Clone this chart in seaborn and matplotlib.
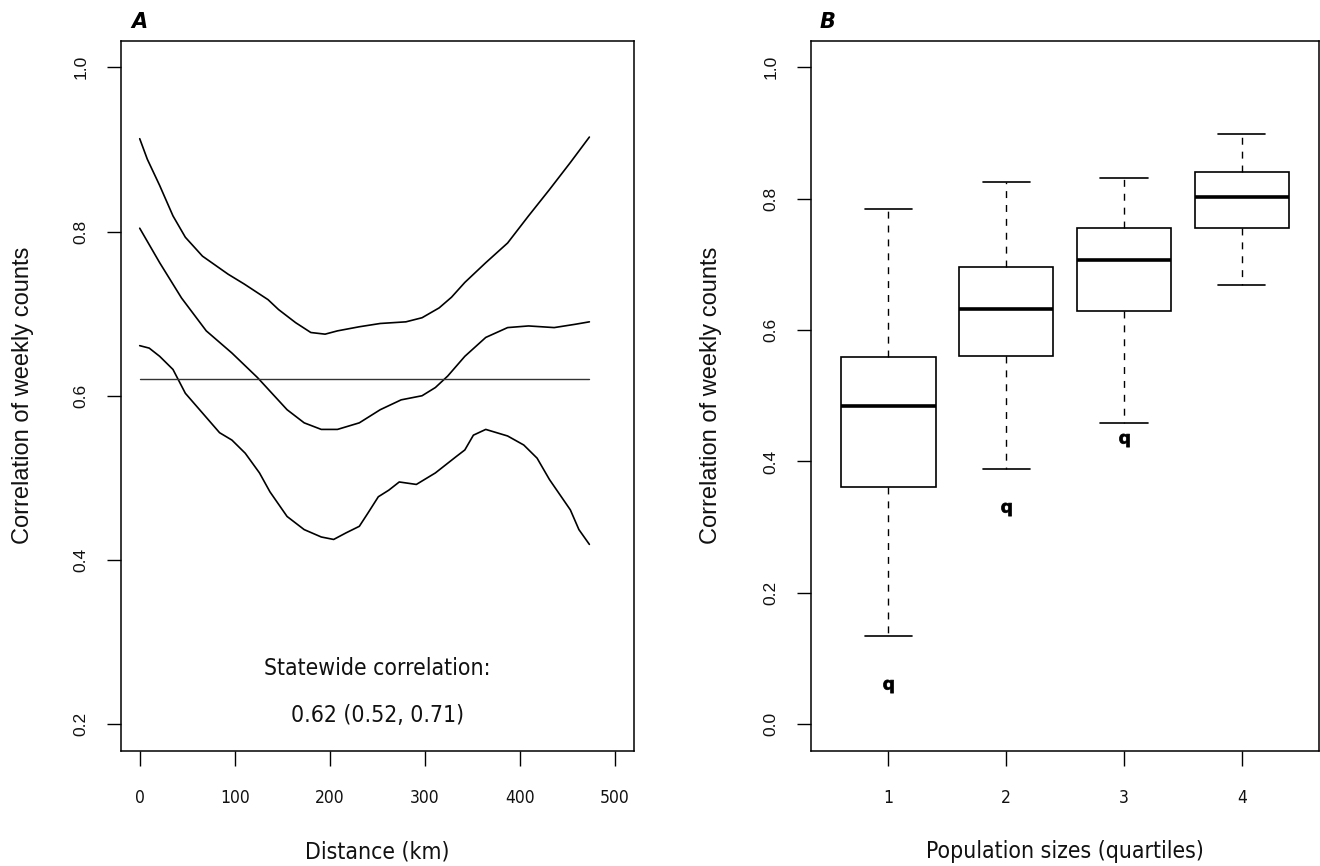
import matplotlib
matplotlib.use("Agg")
import matplotlib.pyplot as plt
import seaborn as sns

# ---------------- Panel A data: correlation vs distance ----------------
dist_upper = [0, 8, 21, 35, 48, 66, 93, 110, 135, 146, 164, 180, 195, 208, 231,
              253, 280, 297, 315, 328, 342, 364, 387, 409, 431, 453, 473]
corr_upper = [0.913, 0.888, 0.856, 0.819, 0.793, 0.770, 0.748, 0.736, 0.717, 0.705,
              0.689, 0.677, 0.675, 0.679, 0.684, 0.688, 0.690, 0.695, 0.707, 0.720,
              0.738, 0.762, 0.786, 0.819, 0.851, 0.884, 0.915]

dist_mid = [0, 21, 44, 70, 97, 124, 155, 173, 191, 208, 231, 253, 275, 297, 311,
            324, 342, 364, 387, 409, 436, 458, 473]
corr_mid = [0.804, 0.762, 0.719, 0.679, 0.652, 0.622, 0.583, 0.567, 0.559, 0.559,
            0.567, 0.583, 0.595, 0.600, 0.610, 0.624, 0.648, 0.671, 0.683, 0.685,
            0.683, 0.687, 0.690]

dist_lower = [0, 10, 21, 35, 48, 66, 84, 97, 111, 126, 137, 155, 173, 191, 204, 217,
              231, 240, 251, 262, 273, 291, 311, 333, 342, 351, 364, 387, 404, 418,
              431, 453, 462, 473]
corr_lower = [0.661, 0.658, 0.648, 0.632, 0.603, 0.579, 0.555, 0.546, 0.530, 0.506,
              0.483, 0.453, 0.437, 0.428, 0.425, 0.433, 0.441, 0.457, 0.477, 0.485,
              0.495, 0.492, 0.506, 0.526, 0.534, 0.552, 0.559, 0.551, 0.540, 0.524,
              0.498, 0.461, 0.437, 0.419]

statewide_dist = [0, 473]
statewide_corr = [0.62, 0.62]
statewide_label = "Statewide correlation:"
statewide_value = "0.62 (0.52, 0.71)"

# ---------------- Panel B data: boxplots by population quartile ----------------
quartiles = [1, 2, 3, 4]
whisker_low = [0.134, 0.389, 0.458, 0.669]
box_q1 = [0.361, 0.561, 0.629, 0.756]
box_med = [0.484, 0.632, 0.707, 0.803]
box_q3 = [0.559, 0.696, 0.756, 0.841]
whisker_high = [0.784, 0.825, 0.831, 0.899]
outliers = [[0.058], [0.328], [0.433], []]

x_ticks_A = [0, 100, 200, 300, 400, 500]
y_ticks_A = [0.2, 0.4, 0.6, 0.8, 1.0]
y_ticks_B = [0.0, 0.2, 0.4, 0.6, 0.8, 1.0]

# ---------------- Style ----------------
sns.set_style("ticks")
plt.rcParams["font.family"] = ["DejaVu Sans"]
plt.rcParams["axes.edgecolor"] = "black"
plt.rcParams["axes.linewidth"] = 1.1

COND = dict(family="DejaVu Sans", fontstretch="condensed")
ARIAL = dict(family="Liberation Sans")

fig = plt.figure(figsize=(13.2, 8.66), dpi=100)
axA = fig.add_axes([0.09144, 0.13337, 0.3889, 0.8193])
axB = fig.add_axes([0.61417, 0.13337, 0.38545, 0.8193])

# ---------------- Panel A ----------------
for xs, ys in [(dist_upper, corr_upper), (dist_mid, corr_mid), (dist_lower, corr_lower)]:
    sns.lineplot(x=xs, y=ys, ax=axA, color="black", lw=1.2, estimator=None, sort=False)
sns.lineplot(x=statewide_dist, y=statewide_corr, ax=axA, color="#333333", lw=1.0,
             estimator=None, sort=False)

axA.text(250, 0.268, statewide_label, ha="center", va="center", fontsize=16.5,
         color="#111111", **COND)
axA.text(250, 0.211, statewide_value, ha="center", va="center", fontsize=16.5,
         color="#111111", **COND)

axA.set_xlim(-20, 520)
axA.set_ylim(0.168, 1.032)

# ---------------- Panel B ----------------
stats = []
for i in range(len(quartiles)):
    stats.append(dict(whislo=whisker_low[i], q1=box_q1[i], med=box_med[i],
                      q3=box_q3[i], whishi=whisker_high[i], fliers=outliers[i]))
axB.bxp(stats, positions=quartiles, widths=0.8, capwidths=0.4, showfliers=True,
        patch_artist=True,
        boxprops=dict(facecolor="white", edgecolor="black", lw=1.2),
        whiskerprops=dict(color="black", lw=1.0, linestyle=(0, (5, 5))),
        capprops=dict(color="black", lw=1.2),
        medianprops=dict(color="black", lw=2.6, solid_capstyle="butt"),
        flierprops=dict(marker=r"$\mathbf{q}$", markersize=9.5,
                        markerfacecolor="black", markeredgecolor="black",
                        markeredgewidth=0.5, linestyle="none"))
axB.set_xlim(0.34, 4.66)
axB.set_ylim(-0.04, 1.04)

# ---------------- Axes styling ----------------
def style_axes(ax, xticks, xlabels, yticks, ylabels, xlabel, ylabel, panel):
    for sp in ax.spines.values():
        sp.set_visible(True)
        sp.set_color("black")
        sp.set_linewidth(1.1)
    ax.set_xticks(xticks)
    ax.set_xticklabels(xlabels)
    ax.set_yticks(yticks)
    ax.set_yticklabels(ylabels)
    ax.tick_params(axis="x", length=10.8, width=1.0, pad=17.0, labelsize=12.5,
                   colors="black", direction="out")
    ax.tick_params(axis="y", length=10.1, width=1.0, pad=18.7, labelsize=12.5,
                   colors="black", direction="out")
    for lab in ax.get_xticklabels():
        lab.set_fontfamily("DejaVu Sans")
        lab.set_fontstretch("condensed")
        lab.set_color("#111111")
    for lab in ax.get_yticklabels():
        lab.set_fontfamily("Liberation Sans")
        lab.set_rotation(90)
        lab.set_ha("center")
        lab.set_va("center")
        lab.set_color("#111111")
    ax.set_xlabel(xlabel, fontsize=16.5, color="#111111", **COND)
    ax.xaxis.label.set_va("center")
    ax.xaxis.set_label_coords(0.5, -0.143)
    ax.set_ylabel(ylabel, fontsize=17, color="#111111", **ARIAL)
    ax.yaxis.label.set_va("center")
    ax.yaxis.label.set_ha("center")
    ax.grid(False)
    ax.text(panel[1], 1.0183, panel[0], transform=ax.transAxes, ha="left",
            va="baseline", fontsize=15, fontweight="bold", fontstyle="italic",
            color="black", family="DejaVu Sans")

style_axes(axA, x_ticks_A, [str(v) for v in x_ticks_A], y_ticks_A,
           [f"{v:.1f}" for v in y_ticks_A], "Distance (km)",
           "Correlation of weekly counts", ("A", 0.0214))
axA.yaxis.set_label_coords(-0.1903, 0.5)

style_axes(axB, quartiles, [str(v) for v in quartiles], y_ticks_B,
           [f"{v:.1f}" for v in y_ticks_B], "Population sizes (quartiles)",
           "Correlation of weekly counts", ("B", 0.0183))
axB.yaxis.set_label_coords(-0.196, 0.5)

fig.savefig("out.png", dpi=100, facecolor="white")
